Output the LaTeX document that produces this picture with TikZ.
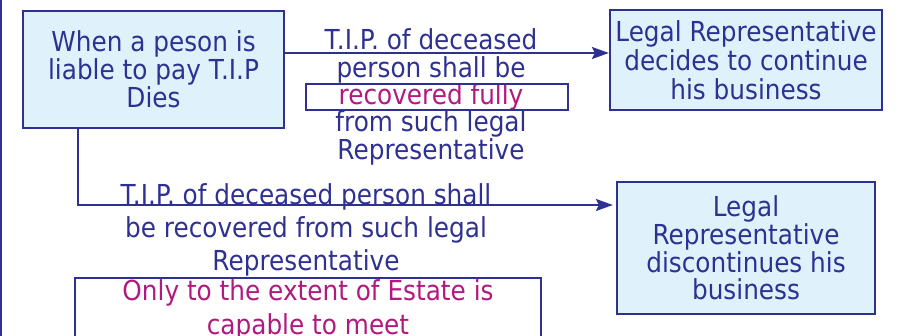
\documentclass[tikz,border=0pt]{standalone}
\usepackage{fontspec}
\setmainfont[FakeStretch=0.9]{DejaVu Sans}
\usetikzlibrary{arrows.meta}
\definecolor{tipblue}{HTML}{2E3192}
\definecolor{tipfill}{HTML}{DFF1FA}
\definecolor{tipred}{HTML}{B01A80}

\begin{document}
\begin{tikzpicture}[x=1pt, y=-1pt,
  every node/.style={text=tipblue, align=center, inner sep=0pt,
    font=\fontsize{27.5}{27.8}\selectfont},
  box/.style={draw=tipblue, line width=2.2pt, fill=tipfill},
  frame/.style={draw=tipblue, line width=2pt},
  link/.style={draw=tipblue, line width=2pt},
  arr/.style={link, -{Stealth[length=17pt, width=12pt, inset=3pt]}}]
  \useasboundingbox (0,0) rectangle (901,336);

  % Nodes
  \node[box, minimum width=261pt, minimum height=117pt] (dies) at (153.5,69.5)
    {When a peson is\\liable to pay T.I.P\\Dies};
  \node[box, minimum width=272pt, minimum height=100pt,
    font=\fontsize{27.5}{29}\selectfont] (cont) at (746,60)
    {Legal Representative\\decides to continue\\his business};
  \node[box, minimum width=258pt, minimum height=132pt] (disc) at (746,248)
    {Legal\\Representative\\discontinues his\\business};
  \node[font=\fontsize{27.5}{27.4}\selectfont] (fulltxt) at (431,97)
    {T.I.P. of deceased\\person shall be\\\textcolor{tipred}{recovered fully}\\from such legal\\Representative};
  \node[frame, minimum width=262pt, minimum height=26pt] (fullbox) at (437,97) {};
  \node[font=\fontsize{27.5}{33}\selectfont] (parttxt) at (306,230)
    {T.I.P. of deceased person shall\\be recovered from such legal\\Representative};
  \node[frame, anchor=north, minimum width=466pt, inner ysep=2pt,
    text=tipred, font=\fontsize{27.5}{34}\selectfont] (estate) at (308,277)
    {Only to the extent of Estate is\\capable to meet};

  % Edges
  \draw[link] (1,0) -- (1,336);
  \draw[arr] ([yshift=16.5pt]dies.east) -- ([yshift=16.5pt]dies.east -| cont.west);
  \draw[arr, shorten >=3pt] ([xshift=-75.5pt]dies.south) |- ([yshift=43pt]disc.west);
\end{tikzpicture}
\end{document}
